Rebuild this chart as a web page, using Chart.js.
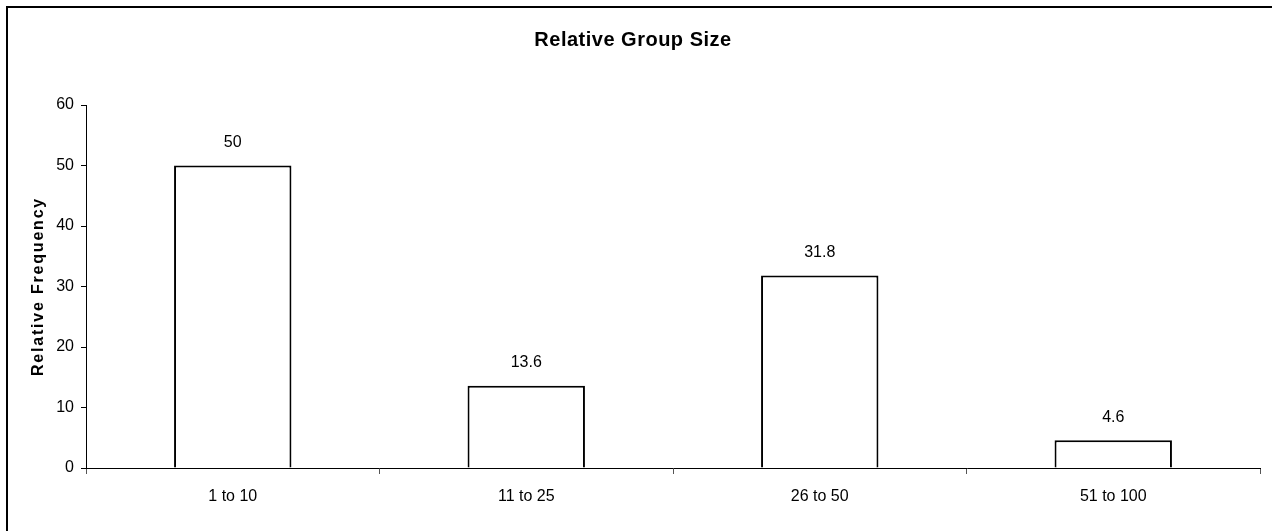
<!DOCTYPE html>
<html>
<head>
<meta charset="utf-8">
<script src="https://cdn.jsdelivr.net/npm/chart.js@4/dist/chart.umd.min.js"></script>
<style>
  html, body { margin: 0; padding: 0; background: #fff; }
  #wrap { position: relative; width: 1272px; height: 531px; }
</style>
</head>
<body>
<div id="wrap"><canvas id="c" width="1272" height="531"></canvas></div>
<script>
const categories = ['1 to 10', '11 to 25', '26 to 50', '51 to 100'];
const frequencies = [50, 13.6, 31.8, 4.6];
const chartTitle = 'Relative Group Size';
const yAxisTitle = 'Relative Frequency';
const yTickValues = [0, 10, 20, 30, 40, 50, 60];

const FONT = "'Liberation Sans', Arial, sans-serif";

const frameBorder = {
  id: 'frameBorder',
  afterDraw(chart) {
    const ctx = chart.ctx;
    ctx.save();
    ctx.strokeStyle = '#000';
    ctx.lineWidth = 2;
    ctx.strokeRect(7, 7, 1400, 700);
    ctx.restore();
  }
};

const valueLabels = {
  id: 'valueLabels',
  afterDatasetsDraw(chart) {
    const ctx = chart.ctx;
    const meta = chart.getDatasetMeta(0);
    ctx.save();
    ctx.font = '16px ' + FONT;
    ctx.fillStyle = '#000';
    ctx.textAlign = 'center';
    ctx.textBaseline = 'middle';
    meta.data.forEach((bar, i) => {
      const v = chart.data.datasets[0].data[i];
      ctx.fillText(String(v), bar.x, bar.y - 23);
    });
    ctx.restore();
  }
};

Chart.defaults.font.family = FONT;
Chart.defaults.color = '#000';

const chart = new Chart(document.getElementById('c'), {
  type: 'bar',
  data: {
    labels: categories,
    datasets: [{
      data: frequencies,
      backgroundColor: '#ffffff',
      borderColor: '#000000',
      borderWidth: 2,
      barPercentage: 0.4,
      categoryPercentage: 1.0
    }]
  },
  options: {
    responsive: false,
    animation: false,
    events: [],
    layout: { padding: { left: 6, right: 12, top: 0, bottom: 0 } },
    plugins: {
      legend: { display: false },
      tooltip: { enabled: false },
      title: {
        display: true,
        text: chartTitle,
        color: '#000',
        font: { size: 20, weight: 'bold', family: FONT },
        padding: { top: 28, bottom: 53 }
      }
    },
    scales: {
      x: {
        grid: { offset: true, drawOnChartArea: false, drawTicks: true, tickLength: 6, color: '#555' },
        border: { display: true, color: '#000', width: 1 },
        ticks: { font: { size: 16 }, color: '#000', padding: 13, maxRotation: 0 },
        afterFit(scale) { scale.height = 63; }
      },
      y: {
        min: 0, max: 60,
        afterBuildTicks(scale) { scale.ticks = yTickValues.map(v => ({ value: v })); },
        grid: { drawOnChartArea: false, drawTicks: true, tickLength: 5, color: '#000' },
        border: { display: true, color: '#000', width: 1 },
        ticks: { font: { size: 16 }, color: '#000', padding: 7 },
        title: {
          display: true,
          text: yAxisTitle,
          color: '#000',
          font: { size: 16, weight: 'bold', family: FONT },
          padding: { top: 23, bottom: 0 }
        },
        afterFit(scale) { scale.width = 80; }
      }
    }
  },
  plugins: [frameBorder, valueLabels]
});

// letter-spaced title texts, as in the original
const tb = chart.titleBlock;
const origTitleDraw = tb.draw;
tb.draw = function () {
  const ctx = this.ctx;
  ctx.save();
  ctx.letterSpacing = '0.5px';
  origTitleDraw.apply(this, arguments);
  ctx.restore();
};
const ys = chart.scales.y;
const origYTitle = ys.drawTitle;
ys.drawTitle = function () {
  const ctx = this.ctx;
  ctx.save();
  ctx.letterSpacing = '1.8px';
  origYTitle.apply(this, arguments);
  ctx.restore();
};
chart.draw();
</script>
</body>
</html>
